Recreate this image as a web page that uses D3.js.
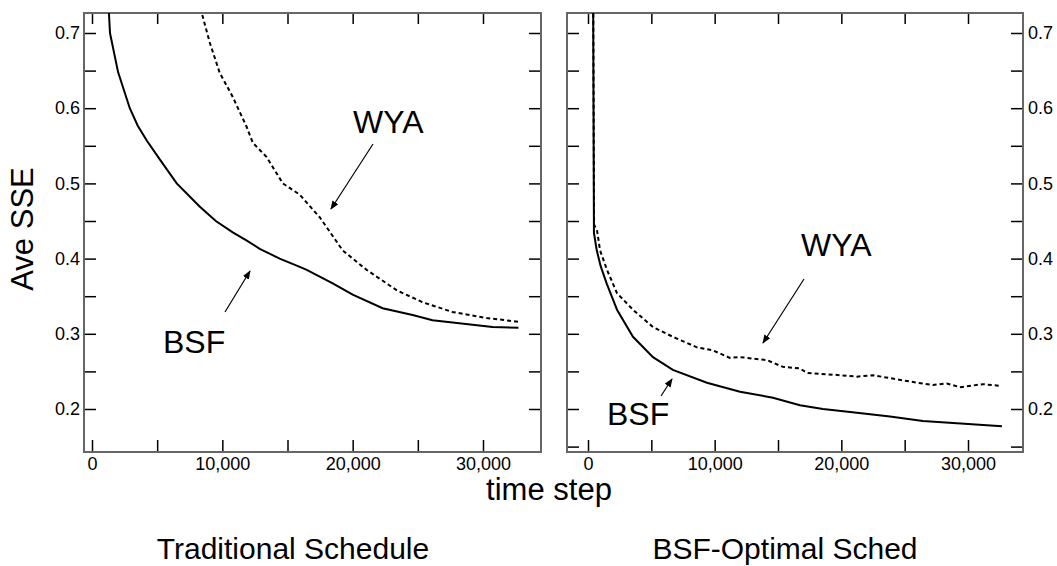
<!DOCTYPE html>
<html lang="en">
<head>
  <meta charset="UTF-8" />
  <title>Ave SSE vs time step</title>
  <script src="https://cdn.jsdelivr.net/npm/d3@7"></script>
  <style>
    body { margin: 0; background: #fff; }
    svg { display: block; font-family: "Liberation Sans", Arial, sans-serif; }
    .frame { fill: none; stroke: #666; stroke-width: 2; }
    .tick line { stroke: #000; stroke-width: 1.5; }
    .bsf { fill: none; stroke: #000; stroke-width: 2; }
    .wya { fill: none; stroke: #000; stroke-width: 2; stroke-dasharray: 4,3; }
    .arrow { stroke: #000; stroke-width: 1.2; }
  </style>
</head>
<body>
  <div id="container"></div>
  <script>
    // traditional schedule (left panel)
    const tradBsfSteps = [1200, 1380, 2000, 2900, 3500, 4200, 5200, 6500, 8276, 9500, 10800, 11877, 12870, 14400, 15940, 16475, 18470, 20000, 22300, 24600, 26130, 29200, 30730, 32720];
    const tradBsf = [0.76, 0.70, 0.648, 0.60, 0.577, 0.557, 0.532, 0.50, 0.469, 0.450, 0.435, 0.424, 0.413, 0.40, 0.389, 0.385, 0.367, 0.352, 0.334, 0.325, 0.318, 0.312, 0.309, 0.308];
    const tradWyaSteps = [7900, 9040, 9800, 10800, 11870, 12340, 13400, 14640, 15940, 17470, 19230, 21070, 23370, 25360, 27660, 30270, 32720];
    const tradWya = [0.76, 0.687, 0.647, 0.615, 0.575, 0.554, 0.535, 0.50, 0.485, 0.455, 0.411, 0.385, 0.358, 0.342, 0.329, 0.321, 0.316];

    // BSF-optimal schedule (right panel)
    const optBsfSteps = [395, 470, 690, 1000, 1470, 2290, 3550, 5130, 6700, 9390, 12000, 14600, 16730, 18550, 21230, 23840, 26440, 29120, 32680];
    const optBsf = [0.80, 0.434, 0.411, 0.39, 0.367, 0.332, 0.296, 0.269, 0.252, 0.235, 0.223, 0.215, 0.205, 0.20, 0.195, 0.19, 0.184, 0.181, 0.177];
    const optWyaSteps = [400, 480, 710, 950, 1500, 2290, 3550, 5130, 6700, 8600, 9860, 11200, 12000, 14130, 15390, 16730, 17290, 19890, 21230, 22490, 23840, 25970, 27230, 28330, 29360, 31180, 32440];
    const optWya = [0.80, 0.445, 0.438, 0.411, 0.385, 0.354, 0.332, 0.309, 0.296, 0.282, 0.278, 0.268, 0.269, 0.265, 0.256, 0.254, 0.248, 0.245, 0.243, 0.245, 0.241, 0.235, 0.232, 0.234, 0.229, 0.233, 0.231];

    const xTicks = [0, 5000, 10000, 15000, 20000, 25000, 30000];
    const yTicks = [0.2, 0.25, 0.3, 0.35, 0.4, 0.45, 0.5, 0.55, 0.6, 0.65, 0.7];

    const W = 1057, H = 566;
    const yTop = 13, yBottom = 452;
    const font = '"Liberation Sans", Arial, sans-serif';

    const svg = d3.select('#container').append('svg').attr('width', W).attr('height', H);

    const defs = svg.append('defs');
    defs.append('marker')
      .attr('id', 'head')
      .attr('markerUnits', 'userSpaceOnUse')
      .attr('markerWidth', 9).attr('markerHeight', 7)
      .attr('refX', 8).attr('refY', 3.5)
      .attr('orient', 'auto')
      .append('path').attr('d', 'M0,0 L9,3.5 L0,7 Z').attr('fill', '#000');

    const y = d3.scaleLinear().domain([0.2, 0.7]).range([409, 33]);
    const fmtY = d => (Math.round(d * 100) % 10 === 0 ? d3.format('.1f')(d) : '');
    const fmtX = d => (d % 10000 === 0 ? d3.format(',')(d) : '');

    function styleAxis(g) {
      g.select('.domain').remove();
      g.attr('font-size', 18).attr('font-family', font);
      g.selectAll('text').attr('fill', '#000');
    }

    function panel(id, left, right, x, labelSide, yTickVals, series, notes) {
      const g = svg.append('g');
      g.append('clipPath').attr('id', id)
        .append('rect').attr('x', left).attr('y', yTop).attr('width', right - left).attr('height', yBottom - yTop);

      g.append('g').attr('transform', `translate(0,${yBottom})`)
        .call(d3.axisBottom(x).tickValues(xTicks).tickSize(-12).tickPadding(5).tickFormat(fmtX))
        .call(styleAxis);
      g.append('g').attr('transform', `translate(0,${yTop})`)
        .call(d3.axisTop(x).tickValues(xTicks).tickSize(-11).tickFormat(''))
        .call(styleAxis);
      g.append('g').attr('transform', `translate(${left},0)`)
        .call(d3.axisLeft(y).tickValues(yTickVals).tickSize(-12).tickPadding(4)
          .tickFormat(labelSide === 'left' ? fmtY : ''))
        .call(styleAxis);
      g.append('g').attr('transform', `translate(${right},0)`)
        .call(d3.axisRight(y).tickValues(yTickVals).tickSize(-12).tickPadding(5)
          .tickFormat(labelSide === 'right' ? fmtY : ''))
        .call(styleAxis);

      g.append('rect').attr('class', 'frame')
        .attr('x', left).attr('y', yTop).attr('width', right - left).attr('height', yBottom - yTop);

      const line = d3.line().x(d => x(d[0])).y(d => y(d[1]));
      const lines = g.append('g').attr('clip-path', `url(#${id})`);
      series.forEach(s => {
        lines.append('path').attr('class', s.cls)
          .attr('d', line(d3.zip(s.steps, s.vals)));
      });

      notes.forEach(n => {
        g.append('text').attr('x', n.tx).attr('y', n.ty)
          .attr('font-size', 32).attr('font-family', font).text(n.label);
        g.append('line').attr('class', 'arrow')
          .attr('x1', n.a[0]).attr('y1', n.a[1]).attr('x2', n.a[2]).attr('y2', n.a[3])
          .attr('marker-end', 'url(#head)');
      });
    }

    const xLeft = d3.scaleLinear().domain([0, 30000]).range([92, 483]);
    panel('clipL', 84, 541, xLeft, 'left', yTicks,
      [{ cls: 'wya', steps: tradWyaSteps, vals: tradWya },
       { cls: 'bsf', steps: tradBsfSteps, vals: tradBsf }],
      [{ label: 'WYA', tx: 353, ty: 133, a: [373, 144, 331, 209] },
       { label: 'BSF', tx: 163, ty: 353, a: [225, 312, 250, 271] }]);

    const xRight = d3.scaleLinear().domain([0, 30000]).range([588, 968]);
    panel('clipR', 567, 1023, xRight, 'right', [0.15].concat(yTicks),
      [{ cls: 'wya', steps: optWyaSteps, vals: optWya },
       { cls: 'bsf', steps: optBsfSteps, vals: optBsf }],
      [{ label: 'WYA', tx: 801, ty: 256, a: [804, 279, 763, 343] },
       { label: 'BSF', tx: 607, ty: 425, a: [661, 396, 672, 379] }]);

    svg.append('text')
      .attr('transform', 'translate(33,229) rotate(-90)')
      .attr('text-anchor', 'middle').attr('font-size', 31).attr('font-family', font)
      .text('Ave SSE');

    svg.append('text').attr('x', 549).attr('y', 500)
      .attr('text-anchor', 'middle').attr('font-size', 31).attr('font-family', font)
      .text('time step');

    svg.append('text').attr('x', 293).attr('y', 559)
      .attr('text-anchor', 'middle').attr('font-size', 30).attr('font-family', font)
      .text('Traditional Schedule');
    svg.append('text').attr('x', 785).attr('y', 559)
      .attr('text-anchor', 'middle').attr('font-size', 30).attr('font-family', font)
      .text('BSF-Optimal Sched');
  </script>
</body>
</html>
